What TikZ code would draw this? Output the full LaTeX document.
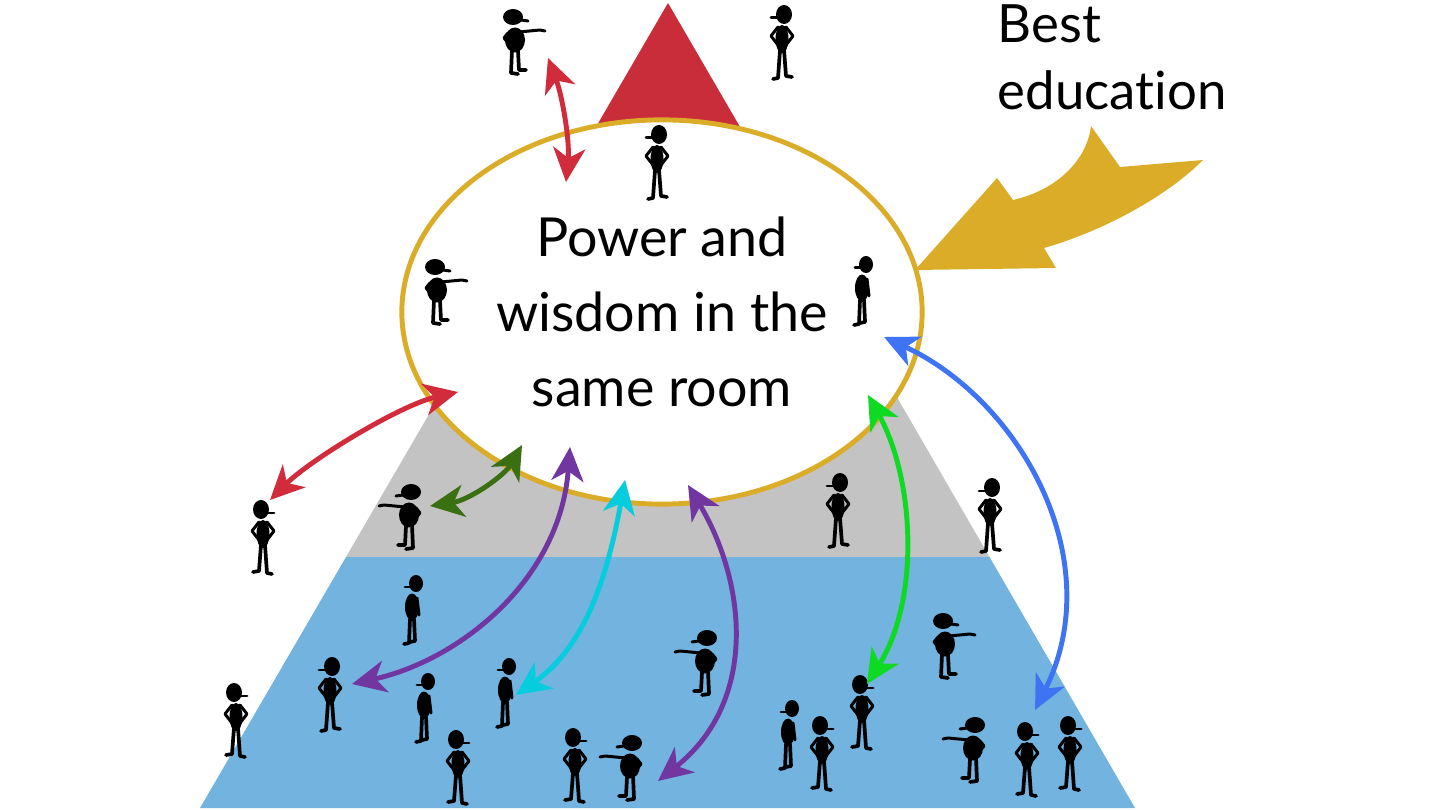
\documentclass[tikz,border=0pt]{standalone}
\usepackage{fontspec}
\setmainfont{Lato}[Ligatures=NoCommon]
\usetikzlibrary{shapes.geometric,arrows.meta}
\definecolor{pyrred}{HTML}{C92D3A}
\definecolor{pyrgray}{HTML}{C3C3C3}
\definecolor{pyrblue}{HTML}{72B3E0}
\definecolor{gold}{HTML}{DBAC28}
\definecolor{arrred}{HTML}{D12B3C}
\definecolor{arrdkgreen}{HTML}{3B7012}
\definecolor{arrpurple}{HTML}{7236A0}
\definecolor{arrcyan}{HTML}{05CDDD}
\definecolor{arrgreen}{HTML}{0FDA23}
\definecolor{arrblue}{HTML}{3E74F4}
\tikzset{
  limb/.style={line width=0.85pt, line cap=round, line join=round},
  leg/.style={limb, line width=1.05pt},
  link/.style={{Stealth[length=3.4mm,width=3.2mm,inset=1mm]}-{Stealth[length=3.4mm,width=3.2mm,inset=1mm]}, line width=1.4pt},
  % standing, hands on hips
  hips/.pic={
    \fill (2,9.5) ellipse [x radius=8, y radius=9.5];
    \draw[limb] (-11,13) -- (-4,13);
    \fill (0,34) ellipse [x radius=6.5, y radius=14];
    \draw[limb] (-4,22) -- (-11,31) -- (-4,40);
    \draw[limb] (4,22) -- (11,31) -- (4,40);
    \draw[leg] (-2,45) -- (-4,73) -- (-9,74);
    \draw[leg] (2,45) -- (4,71) -- (10,72);
  },
  % seen from the side
  side/.pic={
    \fill (4,8.5) ellipse [x radius=7, y radius=8.5];
    \draw[limb] (-7,12) -- (1,12);
    \fill (0,32) ellipse [x radius=7, y radius=13.5];
    \draw[limb] (5,23) -- (7,40);
    \draw[leg] (-2,44) -- (-3,68) -- (-8,69);
    \draw[leg] (2,44) -- (3,66) -- (-2,67);
  },
  % pointing to the right
  pointer/.pic={
    \fill (-2,11) ellipse [x radius=10, y radius=8];
    \draw[limb] (6,14) -- (13,15);
    \fill (0,34) ellipse [x radius=10, y radius=12.5];
    \draw[limb] (4,26) -- (25,24) -- (30,25);
    \draw[limb] (-7,27) -- (-11,32) -- (-6,38);
    \draw[leg] (-3,44) -- (-4,67) -- (3,68);
    \draw[leg] (3,45) -- (4,64) -- (11,64);
  }
}
\begin{document}
\begin{tikzpicture}[x=0.01cm, y=-0.01cm]
  \useasboundingbox (0,0) rectangle (1440,810);
  % pyramid
  \fill[pyrred] (668,3) -- (492.5,305) -- (843.5,305) -- cycle;
  \fill[pyrgray] (492.5,305) -- (843.5,305) -- (989.5,557) -- (346,557) -- cycle;
  \fill[pyrblue] (346,557) -- (989.5,557) -- (1135,808) -- (200,808) -- cycle;
  \node (room) [ellipse, draw=gold, line width=1.4pt, fill=white,
    minimum width=5.2cm, minimum height=3.84cm, align=center,
    font=\fontsize{15.3}{21.3}\selectfont] at (662,312)
    {Power and\\wisdom in the\\same room};
  % people
  \foreach \x/\y in {782/5, 657/125, 838/473, 990/478, 330/657}
    \pic at (\x,\y) {hips};
  \foreach \x/\y in {263/500, 236/683, 458/730, 575/728, 822/716, 862/675, 1027/722, 1070/716}
    \pic[xscale=-1] at (\x,\y) {hips};
  \foreach \x/\y in {412/575, 424/673, 505/658, 862/256, 788/700}
    \pic at (\x,\y) {side};
  \foreach \x/\y in {515/6, 437/256, 945/610}
    \pic at (\x,\y) {pointer};
  \foreach \x/\y in {409/481, 705/627, 630/732, 973/714}
    \pic[xscale=-1] at (\x,\y) {pointer};
  % arrow ends
  \coordinate (top) at (548,58);    \coordinate (topin) at (566,182);
  \coordinate (left) at (270,500);  \coordinate (leftin) at (458,392);
  \coordinate (gray) at (430,506);  \coordinate (grayin) at (522,445);
  \coordinate (low1) at (352,684);  \coordinate (low1in) at (570,447);
  \coordinate (low2) at (516,695);  \coordinate (low2in) at (625,480);
  \coordinate (low3) at (658,781);  \coordinate (low3in) at (688,485);
  \coordinate (low4) at (867,684);  \coordinate (low4in) at (868,395);
  \coordinate (low5) at (1035,710); \coordinate (low5in) at (884,337);
  \draw[link, arrred] (top) .. controls (562,95) and (570,140) .. (topin);
  \draw[link, arrred] (leftin) .. controls (400,405) and (310,460) .. (left);
  \draw[link, arrdkgreen] (grayin) .. controls (505,475) and (470,500) .. (gray);
  \draw[link, arrpurple] (low1in) .. controls (560,580) and (460,660) .. (low1);
  \draw[link, arrcyan] (low2in) .. controls (605,590) and (580,650) .. (low2);
  \draw[link, arrpurple] (low3in) .. controls (745,580) and (760,700) .. (low3);
  \draw[link, arrgreen] (low4in) .. controls (915,480) and (920,600) .. (low4);
  \draw[link, arrblue] (low5in) .. controls (1020,400) and (1110,560) .. (low5);
  % best education
  \fill[gold] (915,270) -- (997,178) -- (1013,200)
    .. controls (1057,190) and (1087,160) .. (1091,126) -- (1120,167) -- (1203,160)
    .. controls (1163,200) and (1097,233) .. (1044,248) -- (1056,268) -- cycle;
  \node (best) [anchor=north west, inner sep=0pt, align=left,
    font=\fontsize{15}{19}\selectfont] at (997,4) {Best\\education};
\end{tikzpicture}
\end{document}
